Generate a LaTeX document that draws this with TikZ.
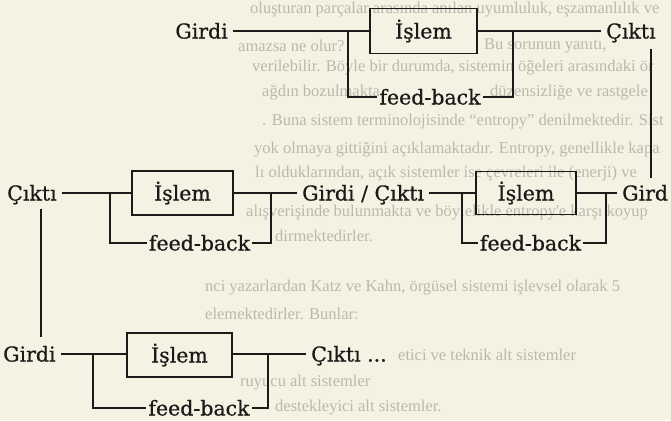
\documentclass[tikz,border=0pt]{standalone}
\usepackage{fontspec}
\setmainfont{DejaVu Serif}
\newfontfamily\diagfont[FakeBold=0.7]{DejaVu Serif}
\newfontfamily\pagefont{Liberation Serif}
\definecolor{paper}{RGB}{244,242,227}
\definecolor{inkc}{RGB}{28,26,24}
\definecolor{ghostc}{RGB}{188,185,170}
\begin{document}
\begin{tikzpicture}[x=1pt,y=-1pt,
  wire/.style={draw=inkc, line width=1.6pt},
  lbl/.style={inner xsep=5pt, inner ysep=0pt, text height=15pt, text depth=0pt,
    font=\diagfont\fontsize{20.5}{23}\selectfont, text=inkc},
  fbk/.style={lbl, inner xsep=2pt},
  procbox/.style={draw=inkc, line width=1.6pt, inner sep=0pt, text height=15pt,
    text depth=0pt, font=\diagfont\fontsize{20.5}{23}\selectfont, text=inkc},
  ghost/.style={anchor=west, inner sep=0pt, text=ghostc,
    font=\pagefont\fontsize{16.5}{18}\selectfont}]

\useasboundingbox (0,0) rectangle (671,420);
\fill[paper] (0,0) rectangle (671,420);

% faded body text of the page, showing between the diagram rows
\begin{scope}
\clip (0,0) rectangle (671,420);
\node[ghost] (t1)  at (250,10)  {oluşturan parçalar arasında anılan uyumluluk, eşzamanlılık ve};
\node[ghost] (t2a) at (238,46)  {amazsa ne olur?};
\node[ghost] (t2b) at (484,46)  {Bu sorunun yanıtı,};
\node[ghost] (t3)  at (252,68)  {verilebilir. Böyle bir durumda, sistemin öğeleri arasındaki ör};
\node[ghost] (t4a) at (262,93)  {ağdın bozulmakta};
\node[ghost] (t4b) at (490,93)  {düzensizliğe ve rastgele};
\node[ghost] (t5)  at (262,122) {. Buna sistem terminolojisinde “entropy” denilmektedir. Sist};
\node[ghost] (t6)  at (254,150) {yok olmaya gittiğini açıklamaktadır. Entropy, genellikle kapa};
\node[ghost] (t7)  at (255,174) {lı olduklarından, açık sistemler ise çevreleri ile (enerji) ve};
\node[ghost] (t8)  at (246,213) {alışverişinde bulunmakta ve böylelikle entropy'e karşı koyup};
\node[ghost] (t9)  at (275,236) {dirmektedirler.};
\node[ghost] (t10) at (205,288) {nci yazarlardan Katz ve Kahn, örgüsel sistemi işlevsel olarak 5};
\node[ghost] (t11) at (205,314) {elemektedirler. Bunlar:};
\node[ghost] (t12) at (398,355) {etici ve teknik alt sistemler};
\node[ghost] (t13) at (240,383) {ruyucu alt sistemler};
\node[ghost] (t14) at (275,408) {destekleyici alt sistemler.};
\end{scope}

% ---- first stage ----
\node[lbl, anchor=east] (g1) at (233,31) {Girdi};
\node[procbox, minimum width=107pt, minimum height=45pt] (b1) at (423.5,31) {İşlem};
\node[lbl, anchor=west] (c1) at (601,31) {Çıktı};
\node[fbk] (f1) at (430,97) {feed-back};
\coordinate (j1l) at (348,31);
\coordinate (j1r) at (513,31);
\draw[wire] (g1.east) -- (b1.west);
\draw[wire] (b1.east) -- (c1.west);
\draw[wire] (j1l) |- (f1.west);
\draw[wire] (j1r) |- (f1.east);

% link from the first output down to the next input
\coordinate (up1) at (651,49);
\coordinate (dn1) at (651,178);
\draw[wire] (up1) -- (dn1);

% ---- second row: two stages ----
\node[lbl, anchor=west] (c2) at (2,193) {Çıktı};
\node[procbox, minimum width=101pt, minimum height=44pt] (b2) at (182.5,193) {İşlem};
\node[lbl, anchor=west] (gc) at (297,193) {Girdi / Çıktı};
\node[procbox, minimum width=100pt, minimum height=43pt] (b3) at (526,193) {İşlem};
\node[lbl, anchor=west] (g2) at (617,193) {Gird};
\node[fbk] (f2) at (199.5,243) {feed-back};
\node[fbk] (f3) at (530.5,243) {feed-back};
\coordinate (j2l) at (110,193);
\coordinate (j2r) at (271,193);
\coordinate (j3l) at (462,193);
\coordinate (j3r) at (606,193);
\draw[wire] (c2.east) -- (b2.west);
\draw[wire] (b2.east) -- (gc.west);
\draw[wire] (j2l) |- (f2.west);
\draw[wire] (j2r) |- (f2.east);
\draw[wire] (gc.east) -- (b3.west);
\draw[wire] (b3.east) -- (g2.west);
\draw[wire] (j3l) |- (f3.west);
\draw[wire] (j3r) |- (f3.east);

% link from the left output down to the last input
\coordinate (up2) at (41,209);
\coordinate (dn2) at (41,337);
\draw[wire] (up2) -- (dn2);

% ---- third stage ----
\node[lbl, anchor=west, inner xsep=1pt] (g3) at (2,354) {Girdi};
\node[procbox, minimum width=105pt, minimum height=44pt] (b4) at (179.5,355) {İşlem};
\node[lbl, anchor=west] (c3) at (306,354) {Çıktı ...};
\node[fbk] (f4) at (199,408) {feed-back};
\coordinate (j4l) at (93,354);
\coordinate (j4r) at (268,354);
\draw[wire] ([xshift=4pt]g3.east) -- (b4.west |- g3.east);
\draw[wire] (b4.east |- c3.west) -- (c3.west);
\draw[wire] (j4l) |- (f4.west);
\draw[wire] (j4r) |- (f4.east);
\end{tikzpicture}
\end{document}
